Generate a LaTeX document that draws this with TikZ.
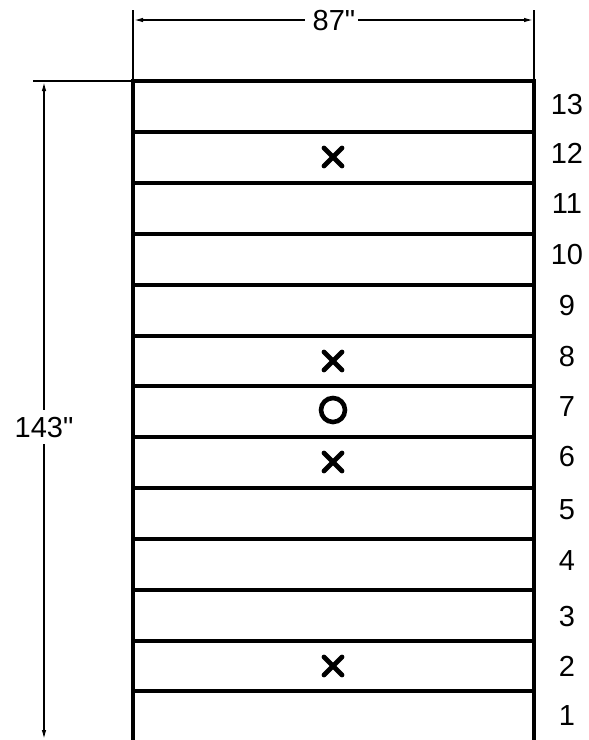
\documentclass[tikz,border=0pt]{standalone}
\usepackage{fontspec}
\setmainfont{Liberation Sans}
\newfontfamily\labfont{Liberation Sans}
\usetikzlibrary{arrows.meta}
\begin{document}
\begin{tikzpicture}[x=1pt,y=-1pt,
  heavy/.style={line width=3.8pt},
  dimline/.style={line width=1.7pt},
  dimarrow/.style={line width=1.7pt,-{Latex[length=10pt,width=4.5pt]}},
  lbl/.style={font=\labfont\fontsize{29}{29}\selectfont,inner sep=0pt},
  xmark/.style={line width=4.8pt,line cap=round},
  omark/.style={line width=4.6pt}]
\useasboundingbox (0,0) rectangle (589,740);
% strip outline
\coordinate (TL) at (133,81);
\coordinate (TR) at (534,81);
\coordinate (BL) at (133,742);
\coordinate (BR) at (534,742);
\draw[heavy] (BL) -- (TL) -- (TR) -- (BR);
\foreach \y in {132,183,234,285,336,386,437,488,539,590,641,691}{
  \draw[heavy] (133,\y) -- (534,\y);
}
% top dimension
\coordinate (e1a) at (133,10);
\coordinate (e2a) at (534,10);
\draw[dimline] (e1a) -- (TL);
\draw[dimline] (e2a) -- (TR);
\node[lbl] (w) at (334,21) {87"};
\coordinate (wl) at (133,20);
\coordinate (wr) at (534,20);
\draw[dimarrow] ([xshift=-8pt]w.west |- wl) -- (wl);
\draw[dimarrow] ([xshift=3pt]w.east |- wr) -- (wr);
% left dimension
\coordinate (e3) at (33,81);
\draw[dimline] (e3) -- (TL);
\node[lbl] (h) at (44,428) {143"};
\coordinate (ht) at (44,81);
\coordinate (hb) at (44,740);
\draw[dimarrow] ([yshift=8pt]h.north -| ht) -- (ht);
\draw[dimarrow] ([yshift=-6pt]h.south -| hb) -- (hb);
% row numbers
\foreach \n/\y in {13/105,12/153,11/204,10/255,9/306,8/357,7/407,6/457,5/510,4/561,3/617,2/666,1/716}{
  \node[lbl] (r\n) at (567,\y) {\n};
}
% markers
\foreach \y in {157,361,462,666}{
  \draw[xmark] (324,\y-9) -- (342,\y+9);
  \draw[xmark] (324,\y+9) -- (342,\y-9);
}
\node[draw,circle,omark,minimum size=24pt,inner sep=0pt] (o7) at (333,410) {};
\end{tikzpicture}
\end{document}
